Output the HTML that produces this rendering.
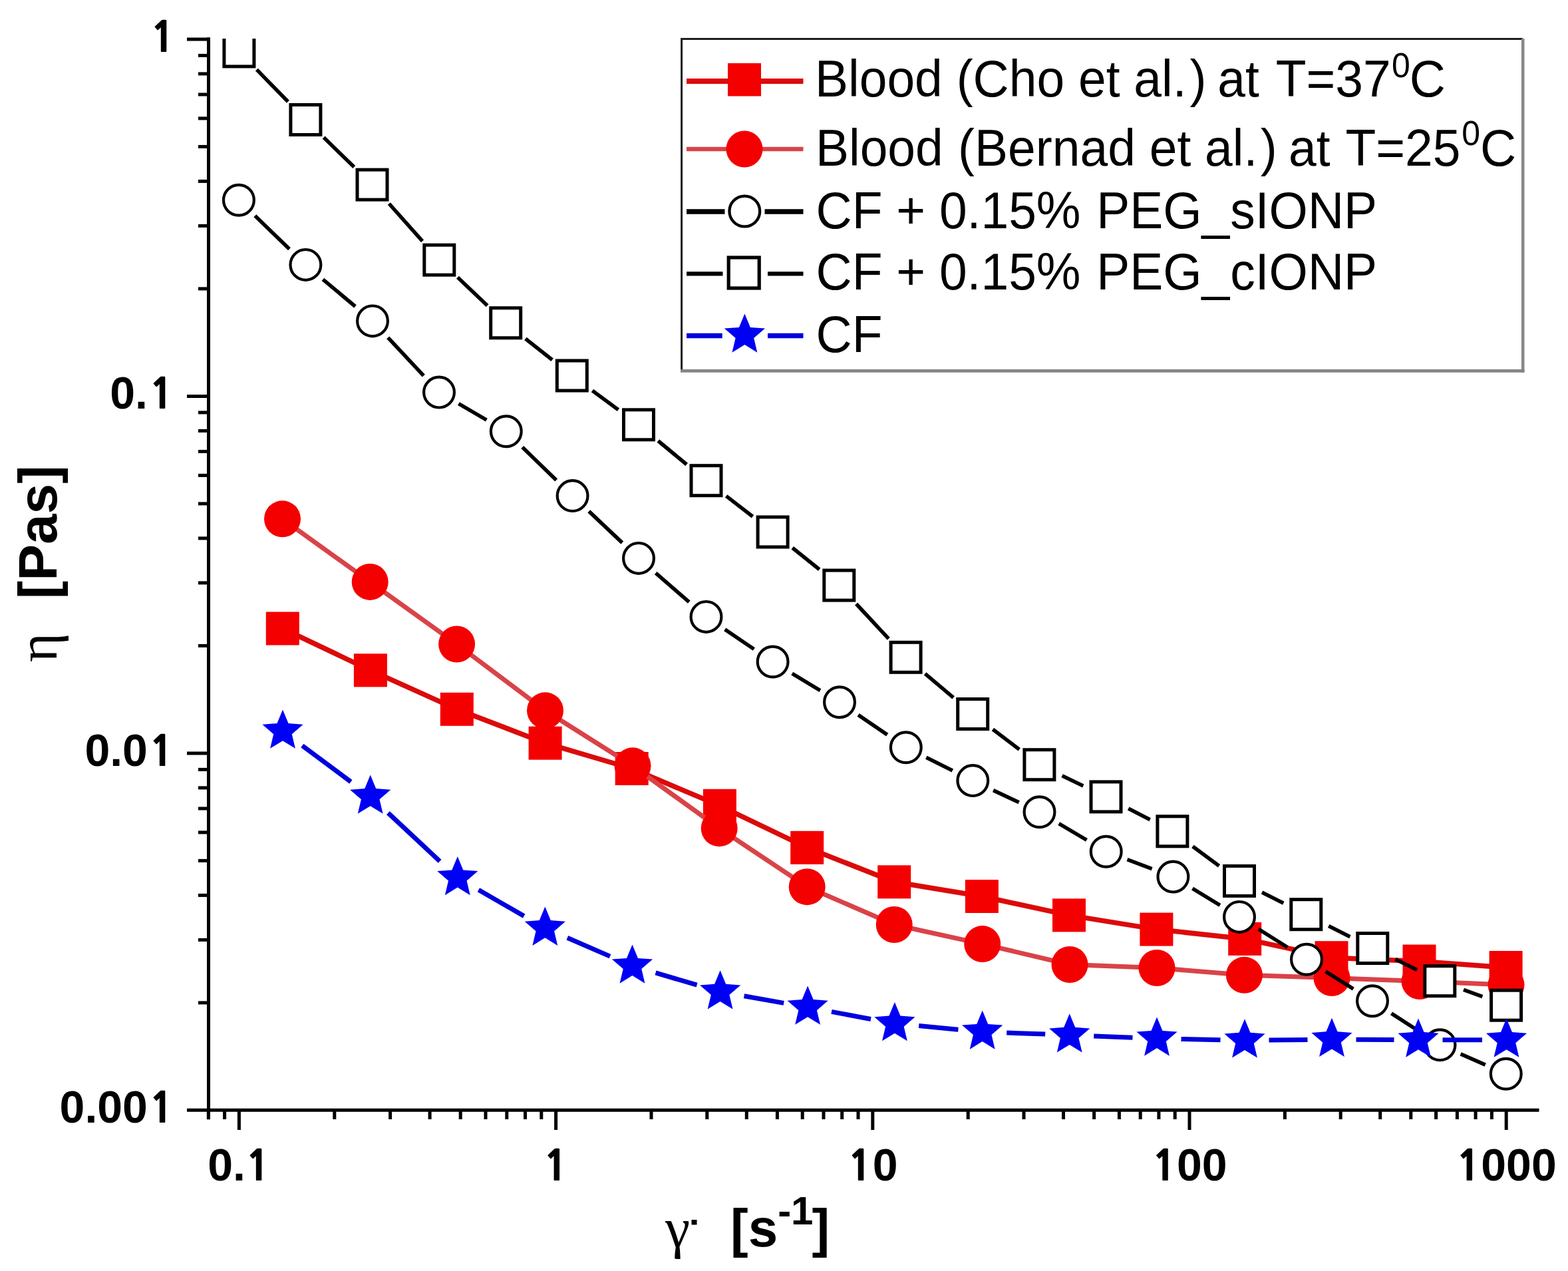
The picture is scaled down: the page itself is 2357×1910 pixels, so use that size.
<!DOCTYPE html>
<html><head><meta charset="utf-8"><title>Viscosity vs shear rate</title>
<style>html,body{margin:0;padding:0;background:#fff;}body{width:2357px;height:1910px;overflow:hidden;}svg{display:block;}</style>
</head><body>
<svg width="2357" height="1910" viewBox="0 0 2357 1910">
<rect width="2357" height="1910" fill="#fff"/>
<defs><clipPath id="pc"><rect x="313.5" y="57.9" width="2040.0" height="1650.3999999999999"/></clipPath></defs>
<line x1="313.5" y1="56.2" x2="313.5" y2="1682.3" stroke="#000" stroke-width="5"/>
<line x1="281" y1="1668.3" x2="2313.5" y2="1668.3" stroke="#000" stroke-width="5"/>
<line x1="281" y1="58.9" x2="313.5" y2="58.9" stroke="#000" stroke-width="5"/>
<line x1="281" y1="595.4" x2="313.5" y2="595.4" stroke="#000" stroke-width="5"/>
<line x1="281" y1="1131.9" x2="313.5" y2="1131.9" stroke="#000" stroke-width="5"/>
<line x1="298" y1="433.9" x2="313.5" y2="433.9" stroke="#000" stroke-width="5"/>
<line x1="298" y1="339.4" x2="313.5" y2="339.4" stroke="#000" stroke-width="5"/>
<line x1="298" y1="272.4" x2="313.5" y2="272.4" stroke="#000" stroke-width="5"/>
<line x1="298" y1="220.4" x2="313.5" y2="220.4" stroke="#000" stroke-width="5"/>
<line x1="298" y1="177.9" x2="313.5" y2="177.9" stroke="#000" stroke-width="5"/>
<line x1="298" y1="142" x2="313.5" y2="142" stroke="#000" stroke-width="5"/>
<line x1="298" y1="110.9" x2="313.5" y2="110.9" stroke="#000" stroke-width="5"/>
<line x1="298" y1="83.4" x2="313.5" y2="83.4" stroke="#000" stroke-width="5"/>
<line x1="298" y1="970.4" x2="313.5" y2="970.4" stroke="#000" stroke-width="5"/>
<line x1="298" y1="875.9" x2="313.5" y2="875.9" stroke="#000" stroke-width="5"/>
<line x1="298" y1="808.9" x2="313.5" y2="808.9" stroke="#000" stroke-width="5"/>
<line x1="298" y1="756.9" x2="313.5" y2="756.9" stroke="#000" stroke-width="5"/>
<line x1="298" y1="714.4" x2="313.5" y2="714.4" stroke="#000" stroke-width="5"/>
<line x1="298" y1="678.5" x2="313.5" y2="678.5" stroke="#000" stroke-width="5"/>
<line x1="298" y1="647.4" x2="313.5" y2="647.4" stroke="#000" stroke-width="5"/>
<line x1="298" y1="619.9" x2="313.5" y2="619.9" stroke="#000" stroke-width="5"/>
<line x1="298" y1="1506.9" x2="313.5" y2="1506.9" stroke="#000" stroke-width="5"/>
<line x1="298" y1="1412.4" x2="313.5" y2="1412.4" stroke="#000" stroke-width="5"/>
<line x1="298" y1="1345.4" x2="313.5" y2="1345.4" stroke="#000" stroke-width="5"/>
<line x1="298" y1="1293.4" x2="313.5" y2="1293.4" stroke="#000" stroke-width="5"/>
<line x1="298" y1="1250.9" x2="313.5" y2="1250.9" stroke="#000" stroke-width="5"/>
<line x1="298" y1="1215" x2="313.5" y2="1215" stroke="#000" stroke-width="5"/>
<line x1="298" y1="1183.9" x2="313.5" y2="1183.9" stroke="#000" stroke-width="5"/>
<line x1="298" y1="1156.4" x2="313.5" y2="1156.4" stroke="#000" stroke-width="5"/>
<line x1="359.4" y1="1668.3" x2="359.4" y2="1698" stroke="#000" stroke-width="5"/>
<line x1="835.6" y1="1668.3" x2="835.6" y2="1698" stroke="#000" stroke-width="5"/>
<line x1="1311.8" y1="1668.3" x2="1311.8" y2="1698" stroke="#000" stroke-width="5"/>
<line x1="1788" y1="1668.3" x2="1788" y2="1698" stroke="#000" stroke-width="5"/>
<line x1="2264.2" y1="1668.3" x2="2264.2" y2="1698" stroke="#000" stroke-width="5"/>
<line x1="313.3" y1="1668.3" x2="313.3" y2="1682" stroke="#000" stroke-width="5"/>
<line x1="337.6" y1="1668.3" x2="337.6" y2="1682" stroke="#000" stroke-width="5"/>
<line x1="502.8" y1="1668.3" x2="502.8" y2="1682" stroke="#000" stroke-width="5"/>
<line x1="586.6" y1="1668.3" x2="586.6" y2="1682" stroke="#000" stroke-width="5"/>
<line x1="646.1" y1="1668.3" x2="646.1" y2="1682" stroke="#000" stroke-width="5"/>
<line x1="692.2" y1="1668.3" x2="692.2" y2="1682" stroke="#000" stroke-width="5"/>
<line x1="730" y1="1668.3" x2="730" y2="1682" stroke="#000" stroke-width="5"/>
<line x1="761.8" y1="1668.3" x2="761.8" y2="1682" stroke="#000" stroke-width="5"/>
<line x1="789.5" y1="1668.3" x2="789.5" y2="1682" stroke="#000" stroke-width="5"/>
<line x1="813.8" y1="1668.3" x2="813.8" y2="1682" stroke="#000" stroke-width="5"/>
<line x1="979" y1="1668.3" x2="979" y2="1682" stroke="#000" stroke-width="5"/>
<line x1="1062.8" y1="1668.3" x2="1062.8" y2="1682" stroke="#000" stroke-width="5"/>
<line x1="1122.3" y1="1668.3" x2="1122.3" y2="1682" stroke="#000" stroke-width="5"/>
<line x1="1168.4" y1="1668.3" x2="1168.4" y2="1682" stroke="#000" stroke-width="5"/>
<line x1="1206.2" y1="1668.3" x2="1206.2" y2="1682" stroke="#000" stroke-width="5"/>
<line x1="1238" y1="1668.3" x2="1238" y2="1682" stroke="#000" stroke-width="5"/>
<line x1="1265.7" y1="1668.3" x2="1265.7" y2="1682" stroke="#000" stroke-width="5"/>
<line x1="1290" y1="1668.3" x2="1290" y2="1682" stroke="#000" stroke-width="5"/>
<line x1="1455.2" y1="1668.3" x2="1455.2" y2="1682" stroke="#000" stroke-width="5"/>
<line x1="1539" y1="1668.3" x2="1539" y2="1682" stroke="#000" stroke-width="5"/>
<line x1="1598.5" y1="1668.3" x2="1598.5" y2="1682" stroke="#000" stroke-width="5"/>
<line x1="1644.6" y1="1668.3" x2="1644.6" y2="1682" stroke="#000" stroke-width="5"/>
<line x1="1682.4" y1="1668.3" x2="1682.4" y2="1682" stroke="#000" stroke-width="5"/>
<line x1="1714.2" y1="1668.3" x2="1714.2" y2="1682" stroke="#000" stroke-width="5"/>
<line x1="1741.9" y1="1668.3" x2="1741.9" y2="1682" stroke="#000" stroke-width="5"/>
<line x1="1766.2" y1="1668.3" x2="1766.2" y2="1682" stroke="#000" stroke-width="5"/>
<line x1="1931.4" y1="1668.3" x2="1931.4" y2="1682" stroke="#000" stroke-width="5"/>
<line x1="2015.2" y1="1668.3" x2="2015.2" y2="1682" stroke="#000" stroke-width="5"/>
<line x1="2074.7" y1="1668.3" x2="2074.7" y2="1682" stroke="#000" stroke-width="5"/>
<line x1="2120.8" y1="1668.3" x2="2120.8" y2="1682" stroke="#000" stroke-width="5"/>
<line x1="2158.6" y1="1668.3" x2="2158.6" y2="1682" stroke="#000" stroke-width="5"/>
<line x1="2190.4" y1="1668.3" x2="2190.4" y2="1682" stroke="#000" stroke-width="5"/>
<line x1="2218.1" y1="1668.3" x2="2218.1" y2="1682" stroke="#000" stroke-width="5"/>
<line x1="2242.4" y1="1668.3" x2="2242.4" y2="1682" stroke="#000" stroke-width="5"/>
<text x="261.5" y="77.9" text-anchor="end" font-family="Liberation Sans, Arial, sans-serif" font-weight="bold" font-size="68"><tspan dx="2" font-family="NanumGothic, Liberation Sans, sans-serif" font-weight="800" font-size="62">1</tspan></text>
<text x="261.5" y="614.4" text-anchor="end" font-family="Liberation Sans, Arial, sans-serif" font-weight="bold" font-size="68">0.<tspan dx="2" font-family="NanumGothic, Liberation Sans, sans-serif" font-weight="800" font-size="62">1</tspan></text>
<text x="261.5" y="1150.9" text-anchor="end" font-family="Liberation Sans, Arial, sans-serif" font-weight="bold" font-size="68">0.0<tspan dx="2" font-family="NanumGothic, Liberation Sans, sans-serif" font-weight="800" font-size="62">1</tspan></text>
<text x="261.5" y="1687.4" text-anchor="end" font-family="Liberation Sans, Arial, sans-serif" font-weight="bold" font-size="68">0.00<tspan dx="2" font-family="NanumGothic, Liberation Sans, sans-serif" font-weight="800" font-size="62">1</tspan></text>
<text x="359.4" y="1774" text-anchor="middle" font-family="Liberation Sans, Arial, sans-serif" font-weight="bold" font-size="68">0.<tspan font-family="NanumGothic, Liberation Sans, sans-serif" font-weight="800" font-size="62">1</tspan></text>
<text x="835.6" y="1774" text-anchor="middle" font-family="Liberation Sans, Arial, sans-serif" font-weight="bold" font-size="68"><tspan font-family="NanumGothic, Liberation Sans, sans-serif" font-weight="800" font-size="62">1</tspan></text>
<text x="1311.8" y="1774" text-anchor="middle" font-family="Liberation Sans, Arial, sans-serif" font-weight="bold" font-size="68"><tspan font-family="NanumGothic, Liberation Sans, sans-serif" font-weight="800" font-size="62">1</tspan>0</text>
<text x="1788" y="1774" text-anchor="middle" font-family="Liberation Sans, Arial, sans-serif" font-weight="bold" font-size="68"><tspan font-family="NanumGothic, Liberation Sans, sans-serif" font-weight="800" font-size="62">1</tspan>00</text>
<text x="2264.2" y="1774" text-anchor="middle" font-family="Liberation Sans, Arial, sans-serif" font-weight="bold" font-size="68"><tspan font-family="NanumGothic, Liberation Sans, sans-serif" font-weight="800" font-size="62">1</tspan>000</text>
<text x="1000" y="1874" font-family="Liberation Serif, serif" font-size="84">γ</text>
<rect x="1039.5" y="1833" width="8" height="7.5" fill="#000"/>
<text x="1098" y="1873" font-family="Liberation Sans, Arial, sans-serif" font-weight="bold" font-size="80">[s<tspan dy="-33" font-size="60">-1</tspan><tspan dy="33" dx="-2">]</tspan></text>
<g transform="translate(85.4 995) rotate(-90)"><text x="0" y="0" font-family="Liberation Serif, serif" font-size="84">η</text></g>
<g transform="translate(85.4 900) rotate(-90)"><text x="0" y="0" font-family="Liberation Sans, Arial, sans-serif" font-weight="bold" font-size="82">[Pas]</text></g>
<g clip-path="url(#pc)">
<polyline points="424.8,944.5 556.9,1007.3 686.8,1065.8 819.6,1116.7 949.7,1155 1081.9,1210.8 1213.2,1273.8 1344.2,1325.3 1475.9,1347 1607,1375.4 1738.4,1396.6 1871.2,1410.9 2001.5,1439.2 2133.5,1444.5 2263.6,1454" fill="none" stroke="#dc0a0a" stroke-width="7.5" stroke-linejoin="round"/>
<rect x="399.8" y="919.5" width="50" height="50" fill="#f50000"/>
<rect x="531.9" y="982.3" width="50" height="50" fill="#f50000"/>
<rect x="661.8" y="1040.8" width="50" height="50" fill="#f50000"/>
<rect x="794.6" y="1091.7" width="50" height="50" fill="#f50000"/>
<rect x="924.7" y="1130" width="50" height="50" fill="#f50000"/>
<rect x="1056.9" y="1185.8" width="50" height="50" fill="#f50000"/>
<rect x="1188.2" y="1248.8" width="50" height="50" fill="#f50000"/>
<rect x="1319.2" y="1300.3" width="50" height="50" fill="#f50000"/>
<rect x="1450.9" y="1322" width="50" height="50" fill="#f50000"/>
<rect x="1582" y="1350.4" width="50" height="50" fill="#f50000"/>
<rect x="1713.4" y="1371.6" width="50" height="50" fill="#f50000"/>
<rect x="1846.2" y="1385.9" width="50" height="50" fill="#f50000"/>
<rect x="1976.5" y="1414.2" width="50" height="50" fill="#f50000"/>
<rect x="2108.5" y="1419.5" width="50" height="50" fill="#f50000"/>
<rect x="2238.6" y="1429" width="50" height="50" fill="#f50000"/>
<polyline points="424.5,779.8 556.2,874.4 686.6,968 819.5,1067.8 951,1150.8 1081.2,1244.7 1213.2,1332.7 1344.2,1389.5 1476.7,1418.6 1608,1449.5 1739,1454.5 1870.4,1465.3 2002,1469.5 2134,1474.5 2264,1480" fill="none" stroke="#d94348" stroke-width="7" stroke-linejoin="round"/>
<circle cx="424.5" cy="779.8" r="27.5" fill="#f50000"/>
<circle cx="556.2" cy="874.4" r="27.5" fill="#f50000"/>
<circle cx="686.6" cy="968" r="27.5" fill="#f50000"/>
<circle cx="819.5" cy="1067.8" r="27.5" fill="#f50000"/>
<circle cx="951" cy="1150.8" r="27.5" fill="#f50000"/>
<circle cx="1081.2" cy="1244.7" r="27.5" fill="#f50000"/>
<circle cx="1213.2" cy="1332.7" r="27.5" fill="#f50000"/>
<circle cx="1344.2" cy="1389.5" r="27.5" fill="#f50000"/>
<circle cx="1476.7" cy="1418.6" r="27.5" fill="#f50000"/>
<circle cx="1608" cy="1449.5" r="27.5" fill="#f50000"/>
<circle cx="1739" cy="1454.5" r="27.5" fill="#f50000"/>
<circle cx="1870.4" cy="1465.3" r="27.5" fill="#f50000"/>
<circle cx="2002" cy="1469.5" r="27.5" fill="#f50000"/>
<circle cx="2134" cy="1474.5" r="27.5" fill="#f50000"/>
<circle cx="2264" cy="1480" r="27.5" fill="#f50000"/>
<path d="M383.3 324.3L435 374.3M485.4 419.8L534 460.5M583.2 507.3L636.8 564.7M689.4 606.7L731.4 631.2M785.2 672L836.2 721.4M885.3 768.4L935.3 815.6M985.7 861.2L1035.8 904.6M1089.7 945.9L1133.4 975.5M1190.7 1012.1L1232.9 1037.7M1290.1 1074.4L1333.7 1104.1M1392.3 1138.3L1431.8 1158M1493.1 1187.6L1531.7 1205.8M1591.7 1237.6L1633.5 1262.4M1694.5 1291.7L1731.6 1305.6M1792.5 1335.2L1833.9 1360.3M1891.7 1396.1L1935.3 1423.5M1992.7 1459.9L2034.3 1486.1M2091.5 1522.8L2136 1551.7M2195.6 1583.9L2232.7 1600.1" fill="none" stroke="#000" stroke-width="5.6"/>
<circle cx="358.9" cy="300.7" r="22.9" fill="#fff" stroke="#000" stroke-width="4.2"/>
<circle cx="459.4" cy="397.9" r="22.9" fill="#fff" stroke="#000" stroke-width="4.2"/>
<circle cx="560" cy="482.4" r="22.9" fill="#fff" stroke="#000" stroke-width="4.2"/>
<circle cx="660" cy="589.6" r="22.9" fill="#fff" stroke="#000" stroke-width="4.2"/>
<circle cx="760.8" cy="648.3" r="22.9" fill="#fff" stroke="#000" stroke-width="4.2"/>
<circle cx="860.6" cy="745.1" r="22.9" fill="#fff" stroke="#000" stroke-width="4.2"/>
<circle cx="960" cy="838.9" r="22.9" fill="#fff" stroke="#000" stroke-width="4.2"/>
<circle cx="1061.5" cy="926.9" r="22.9" fill="#fff" stroke="#000" stroke-width="4.2"/>
<circle cx="1161.6" cy="994.5" r="22.9" fill="#fff" stroke="#000" stroke-width="4.2"/>
<circle cx="1262" cy="1055.3" r="22.9" fill="#fff" stroke="#000" stroke-width="4.2"/>
<circle cx="1361.8" cy="1123.2" r="22.9" fill="#fff" stroke="#000" stroke-width="4.2"/>
<circle cx="1462.3" cy="1173.1" r="22.9" fill="#fff" stroke="#000" stroke-width="4.2"/>
<circle cx="1562.5" cy="1220.3" r="22.9" fill="#fff" stroke="#000" stroke-width="4.2"/>
<circle cx="1662.7" cy="1279.7" r="22.9" fill="#fff" stroke="#000" stroke-width="4.2"/>
<circle cx="1763.4" cy="1317.6" r="22.9" fill="#fff" stroke="#000" stroke-width="4.2"/>
<circle cx="1863" cy="1377.9" r="22.9" fill="#fff" stroke="#000" stroke-width="4.2"/>
<circle cx="1964" cy="1441.7" r="22.9" fill="#fff" stroke="#000" stroke-width="4.2"/>
<circle cx="2063" cy="1504.3" r="22.9" fill="#fff" stroke="#000" stroke-width="4.2"/>
<circle cx="2164.5" cy="1570.2" r="22.9" fill="#fff" stroke="#000" stroke-width="4.2"/>
<circle cx="2263.8" cy="1613.8" r="22.9" fill="#fff" stroke="#000" stroke-width="4.2"/>
<path d="M385.9 104.6L432.9 152.8M486.6 206.5L532.3 251.1M584.8 306L635 362.3M687.9 416.8L732.6 459.2M789.9 509L830.1 540.8M890.4 587L929.4 615.8M989.3 662.5L1032.2 698M1091.6 745.4L1131.5 776.3M1191.2 823.3L1231.7 855.8M1287.1 907.5L1335.8 959.9M1390.6 1012.4L1433.2 1048.4M1492.4 1096L1532.2 1126.2M1596.6 1165.7L1628.3 1180.9M1696.2 1214.9L1728.7 1231.8M1792.9 1271.9L1832.5 1301.3M1897 1340.9L1929.3 1357.2M1997.2 1391.4L2029.4 1407.8M2097.5 1441.6L2130.1 1457.6M2200 1487.3L2228.4 1497.6" fill="none" stroke="#000" stroke-width="5.6"/>
<rect x="336.9" y="54.9" width="45" height="45" fill="#fff" stroke="#000" stroke-width="5"/>
<rect x="436.9" y="157.5" width="45" height="45" fill="#fff" stroke="#000" stroke-width="5"/>
<rect x="537" y="255.1" width="45" height="45" fill="#fff" stroke="#000" stroke-width="5"/>
<rect x="637.8" y="368.2" width="45" height="45" fill="#fff" stroke="#000" stroke-width="5"/>
<rect x="737.7" y="462.8" width="45" height="45" fill="#fff" stroke="#000" stroke-width="5"/>
<rect x="837.3" y="542" width="45" height="45" fill="#fff" stroke="#000" stroke-width="5"/>
<rect x="937.5" y="615.8" width="45" height="45" fill="#fff" stroke="#000" stroke-width="5"/>
<rect x="1039" y="699.7" width="45" height="45" fill="#fff" stroke="#000" stroke-width="5"/>
<rect x="1139.1" y="777" width="45" height="45" fill="#fff" stroke="#000" stroke-width="5"/>
<rect x="1238.8" y="857.1" width="45" height="45" fill="#fff" stroke="#000" stroke-width="5"/>
<rect x="1339.1" y="965.3" width="45" height="45" fill="#fff" stroke="#000" stroke-width="5"/>
<rect x="1439.7" y="1050.5" width="45" height="45" fill="#fff" stroke="#000" stroke-width="5"/>
<rect x="1539.9" y="1126.7" width="45" height="45" fill="#fff" stroke="#000" stroke-width="5"/>
<rect x="1640" y="1174.9" width="45" height="45" fill="#fff" stroke="#000" stroke-width="5"/>
<rect x="1739.9" y="1226.8" width="45" height="45" fill="#fff" stroke="#000" stroke-width="5"/>
<rect x="1840.5" y="1301.4" width="45" height="45" fill="#fff" stroke="#000" stroke-width="5"/>
<rect x="1940.8" y="1351.7" width="45" height="45" fill="#fff" stroke="#000" stroke-width="5"/>
<rect x="2040.8" y="1402.5" width="45" height="45" fill="#fff" stroke="#000" stroke-width="5"/>
<rect x="2141.8" y="1451.7" width="45" height="45" fill="#fff" stroke="#000" stroke-width="5"/>
<rect x="2241.6" y="1488.2" width="45" height="45" fill="#fff" stroke="#000" stroke-width="5"/>
<path d="M454.3 1120.5L527.4 1174.9M583.4 1221.6L661.1 1294.2M719.4 1337.3L787.7 1376.6M852.8 1409.3L917 1437.1M985.5 1461.9L1047.6 1480.2M1118.5 1496.8L1178.2 1507.4M1250 1520.4L1309 1531.5M1381.2 1541.6L1440.4 1547.2M1513.2 1552L1571.2 1554.1M1644.2 1556.9L1702.5 1559.2M1775.5 1561.4L1834.5 1562.7M1907.5 1563.1L1965.5 1562.4M2038.5 1562.2L2095.5 1562.5M2168.5 1562.7L2228 1562.7" fill="none" stroke="#0000dc" stroke-width="7"/>
<polygon points="425,1066.5 433.5,1087 455.6,1088.7 438.8,1103.2 443.9,1124.8 425,1113.2 406.1,1124.8 411.2,1103.2 394.4,1088.7 416.5,1087" fill="#0000f5"/>
<polygon points="556.7,1164.5 565.2,1185 587.3,1186.7 570.5,1201.2 575.6,1222.8 556.7,1211.2 537.8,1222.8 542.9,1201.2 526.1,1186.7 548.2,1185" fill="#0000f5"/>
<polygon points="687.8,1286.9 696.3,1307.4 718.4,1309.1 701.6,1323.6 706.7,1345.2 687.8,1333.6 668.9,1345.2 674,1323.6 657.2,1309.1 679.3,1307.4" fill="#0000f5"/>
<polygon points="819.3,1362.6 827.8,1383.1 849.9,1384.8 833.1,1399.3 838.2,1420.9 819.3,1409.3 800.4,1420.9 805.5,1399.3 788.7,1384.8 810.8,1383.1" fill="#0000f5"/>
<polygon points="950.5,1419.4 959,1439.9 981.1,1441.6 964.3,1456.1 969.4,1477.7 950.5,1466.1 931.6,1477.7 936.7,1456.1 919.9,1441.6 942,1439.9" fill="#0000f5"/>
<polygon points="1082.6,1458.3 1091.1,1478.8 1113.2,1480.5 1096.4,1495 1101.5,1516.6 1082.6,1505 1063.7,1516.6 1068.8,1495 1052,1480.5 1074.1,1478.8" fill="#0000f5"/>
<polygon points="1214.1,1481.5 1222.6,1502 1244.7,1503.7 1227.9,1518.2 1233,1539.8 1214.1,1528.2 1195.2,1539.8 1200.3,1518.2 1183.5,1503.7 1205.6,1502" fill="#0000f5"/>
<polygon points="1344.9,1506 1353.4,1526.5 1375.5,1528.2 1358.7,1542.7 1363.8,1564.3 1344.9,1552.7 1326,1564.3 1331.1,1542.7 1314.3,1528.2 1336.4,1526.5" fill="#0000f5"/>
<polygon points="1476.7,1518.4 1485.2,1538.9 1507.3,1540.6 1490.5,1555.1 1495.6,1576.7 1476.7,1565.1 1457.8,1576.7 1462.9,1555.1 1446.1,1540.6 1468.2,1538.9" fill="#0000f5"/>
<polygon points="1607.7,1523.3 1616.2,1543.8 1638.3,1545.5 1621.5,1560 1626.6,1581.6 1607.7,1570 1588.8,1581.6 1593.9,1560 1577.1,1545.5 1599.2,1543.8" fill="#0000f5"/>
<polygon points="1739,1528.4 1747.5,1548.9 1769.6,1550.6 1752.8,1565.1 1757.9,1586.7 1739,1575.1 1720.1,1586.7 1725.2,1565.1 1708.4,1550.6 1730.5,1548.9" fill="#0000f5"/>
<polygon points="1871,1531.3 1879.5,1551.8 1901.6,1553.5 1884.8,1568 1889.9,1589.6 1871,1578 1852.1,1589.6 1857.2,1568 1840.4,1553.5 1862.5,1551.8" fill="#0000f5"/>
<polygon points="2002,1529.8 2010.5,1550.3 2032.6,1552 2015.8,1566.5 2020.9,1588.1 2002,1576.5 1983.1,1588.1 1988.2,1566.5 1971.4,1552 1993.5,1550.3" fill="#0000f5"/>
<polygon points="2132,1530.5 2140.5,1551 2162.6,1552.7 2145.8,1567.2 2150.9,1588.8 2132,1577.2 2113.1,1588.8 2118.2,1567.2 2101.4,1552.7 2123.5,1551" fill="#0000f5"/>
<polygon points="2264.5,1530.5 2273,1551 2295.1,1552.7 2278.3,1567.2 2283.4,1588.8 2264.5,1577.2 2245.6,1588.8 2250.7,1567.2 2233.9,1552.7 2256,1551" fill="#0000f5"/>
</g>
<rect x="1025" y="59" width="1264" height="498" fill="#fff"/>
<line x1="1024.5" y1="58.6" x2="2289" y2="58.6" stroke="#1e1e1e" stroke-width="3"/>
<line x1="1024.6" y1="57.1" x2="1024.6" y2="557" stroke="#1e1e1e" stroke-width="3"/>
<line x1="2289.2" y1="58" x2="2289.2" y2="559.8" stroke="#888" stroke-width="4.6"/>
<line x1="1023" y1="557.4" x2="2291.5" y2="557.4" stroke="#858585" stroke-width="4.8"/>
<line x1="1032" y1="122" x2="1207.5" y2="122" stroke="#dc0a0a" stroke-width="8"/>
<rect x="1094" y="95" width="50" height="49.5" fill="#f50000"/>
<line x1="1032" y1="224" x2="1207.5" y2="224" stroke="#d94348" stroke-width="6.5"/>
<circle cx="1119" cy="224" r="27.5" fill="#f50000"/>
<path d="M1032 318H1089.5M1149.5 318H1207.5" stroke="#000" stroke-width="7.6"/>
<circle cx="1119.3" cy="317.5" r="22.9" fill="#fff" stroke="#000" stroke-width="4.3"/>
<path d="M1032 411.3H1086.5M1154 411.3H1207.5" stroke="#000" stroke-width="6.3"/>
<rect x="1095.2" y="387" width="46" height="46" fill="#fff" stroke="#000" stroke-width="5.2"/>
<path d="M1032 504.5H1085.7M1154 504.5H1207.5" stroke="#0000dc" stroke-width="7.5"/>
<polygon points="1119.4,471.4 1127.9,491.9 1150,493.6 1133.2,508.1 1138.3,529.7 1119.4,518.1 1100.5,529.7 1105.6,508.1 1088.8,493.6 1110.9,491.9" fill="#0000f5"/>
<g transform="translate(1226 0) scale(0.9665 1) translate(-1226 0)">
<text x="1225" y="145.5" font-family="Liberation Sans, Arial, sans-serif" font-size="77.6">Blood (Cho et al.<tspan dx="5">)</tspan><tspan dx="-4"> at</tspan><tspan dx="5.5"> T=37</tspan><tspan dy="-29" dx="1.3" font-size="51.7">0</tspan><tspan dy="29" dx="-1">C</tspan></text>
<text x="1226" y="249" font-family="Liberation Sans, Arial, sans-serif" font-size="77.6">Blood<tspan dx="1.5"> (Bernad et al.</tspan><tspan dx="4.7">)</tspan><tspan dx="-3.7"> at</tspan><tspan dx="3.5"> T=25</tspan><tspan dy="-31" dx="1.8" font-size="51.7">0</tspan><tspan dy="31" dx="0">C</tspan></text>
<text x="1226.5" y="343" font-family="Liberation Sans, Arial, sans-serif" font-size="77.6">CF + 0.15%<tspan dx="3"> PEG_</tspan><tspan dx="1">sIONP</tspan></text>
<text x="1226.5" y="435.5" font-family="Liberation Sans, Arial, sans-serif" font-size="77.6">CF + 0.15%<tspan dx="3"> PEG_</tspan><tspan dx="1">cIONP</tspan></text>
<text x="1226.5" y="528.6" font-family="Liberation Sans, Arial, sans-serif" font-size="77.6">CF</text>
</g>
</svg>
</body></html>
